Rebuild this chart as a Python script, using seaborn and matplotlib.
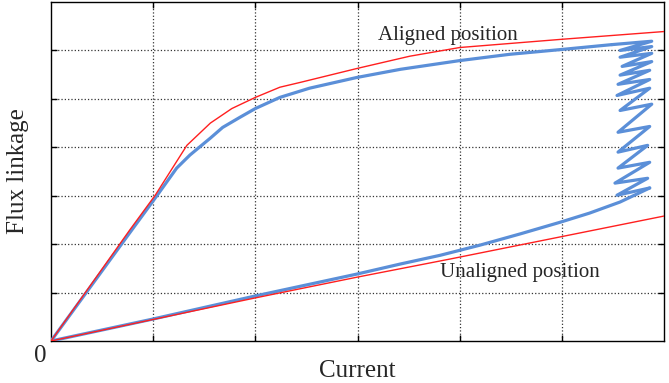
import matplotlib
matplotlib.use("Agg")
import matplotlib.pyplot as plt
import pandas as pd
import seaborn as sns

# Magnetisation curves of a switched reluctance machine (flux linkage vs current)
aligned_ref_i = [0, 0.77, 1.02, 1.33, 1.56, 1.77, 2.0, 2.24, 2.44, 3.0, 3.51, 4.0, 5.0, 6.0]
aligned_ref_psi = [0, 2.29, 3.01, 4.04, 4.50, 4.80, 5.03, 5.24, 5.34, 5.63, 5.88, 6.06, 6.23, 6.39]

unaligned_ref_i = [0, 2.0, 3.0, 3.9, 6.0]
unaligned_ref_psi = [0, 0.89, 1.32, 1.69, 2.58]

# simulated trajectory: rise along the unaligned curve, current chopping, aligned curve
sim_unaligned_i = [0, 0.99, 2.0, 2.99, 3.42, 3.81, 4.2, 4.59, 4.98, 5.27, 5.57, 5.86]
sim_unaligned_psi = [0, 0.45, 0.93, 1.38, 1.59, 1.77, 1.98, 2.21, 2.45, 2.64, 2.87, 3.16]

chop_i = [5.86, 5.54, 5.84, 5.52, 5.86, 5.55, 5.84, 5.55, 5.86, 5.55, 5.88, 5.57,
          5.86, 5.54, 5.86, 5.55, 5.86, 5.57, 5.88, 5.59, 5.88, 5.57, 5.88, 5.57, 5.88, 5.49]
chop_psi = [3.16, 3.01, 3.36, 3.26, 3.69, 3.57, 4.04, 3.90, 4.43, 4.31, 4.89, 4.76,
            5.22, 5.07, 5.40, 5.30, 5.59, 5.49, 5.77, 5.67, 5.94, 5.86, 6.08, 6.00, 6.19, 6.12]

sim_aligned_i = [0, 0.79, 1.04, 1.23, 1.36, 1.56, 1.68, 1.85, 2.0, 2.24, 2.53, 2.99,
                 3.42, 4.0, 4.49, 5.0, 5.49]
sim_aligned_psi = [0, 2.29, 3.01, 3.57, 3.84, 4.19, 4.41, 4.62, 4.80, 5.03, 5.22, 5.44,
                   5.61, 5.79, 5.92, 6.02, 6.12]

x_grid = [1, 2, 3, 4, 5]
y_grid = [1, 2, 3, 4, 5, 6]

sns.set_theme(style="white")
plt.rcParams["font.family"] = ["Liberation Serif", "DejaVu Serif"]

fig = plt.figure(figsize=(6.69, 3.83), dpi=100)
ax = fig.add_axes([51 / 669, 1 - 341 / 383, 613 / 669, 339 / 383])

blue = "#5b8fd8"
red = "#ff1f1f"

for xs, ys in [(sim_unaligned_i, sim_unaligned_psi), (chop_i, chop_psi),
               (sim_aligned_i, sim_aligned_psi)]:
    sns.lineplot(data=pd.DataFrame({"i": xs, "psi": ys}), x="i", y="psi", sort=False,
                 estimator=None, color=blue, lw=2.3, ax=ax, zorder=3,
                 solid_joinstyle="round", solid_capstyle="round")

for xs, ys in [(aligned_ref_i, aligned_ref_psi), (unaligned_ref_i, unaligned_ref_psi)]:
    sns.lineplot(data=pd.DataFrame({"i": xs, "psi": ys}), x="i", y="psi", sort=False,
                 estimator=None, color=red, lw=1.0, ax=ax, zorder=4)

ax.set_xlim(0, 6)
ax.set_ylim(0, 7)
ax.set_xticks(x_grid)
ax.set_yticks(y_grid)
ax.tick_params(direction="in", length=4, width=1, color="black", top=True, right=True,
               bottom=True, left=True, labelbottom=False, labelleft=False)
ax.grid(True, ls=":", color="#333333", lw=0.9)
for s in ax.spines.values():
    s.set_color("black")
    s.set_linewidth(1.0)

ax.set_xlabel("Current", fontsize=18)
ax.set_ylabel("Flux linkage", fontsize=18)
ax.xaxis.set_label_coords(0.50, -0.057)
ax.yaxis.set_label_coords(-0.036, 0.5)

ax.text(-0.11, -0.31, "0", fontsize=18, ha="center", va="center", clip_on=False)
ax.text(3.2, 6.21, "Aligned position", fontsize=15, ha="left", va="baseline")
ax.text(3.81, 1.32, "Unaligned position", fontsize=15, ha="left", va="baseline")

fig.savefig("out.png", dpi=100)
